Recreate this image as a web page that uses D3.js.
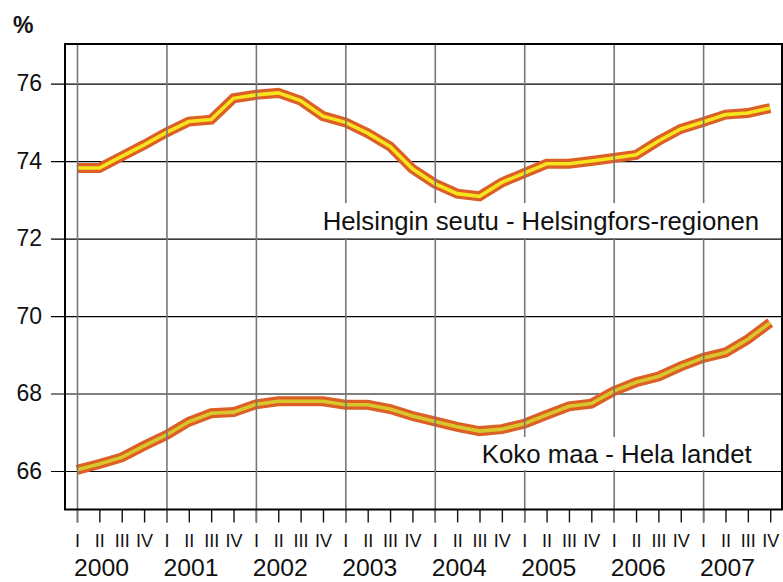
<!DOCTYPE html>
<html><head><meta charset="utf-8">
<script src="https://cdn.jsdelivr.net/npm/d3@7"></script>
<style>
html,body{margin:0;padding:0;background:#fff;}
svg{display:block;font-family:"Liberation Sans",Arial,sans-serif;}
</style></head>
<body>
<svg id="c" width="783" height="582"></svg>
<script>
const years = ["2000","2001","2002","2003","2004","2005","2006","2007"];
const quarters = ["I","II","III","IV"];
const yTicks = [66,68,70,72,74,76];
const seriesNames = ["Helsingin seutu - Helsingfors-regionen","Koko maa - Hela landet"];
const helsinki = [73.82,73.82,74.12,74.42,74.74,75.02,75.07,75.62,75.71,75.76,75.56,75.16,
                  75.0,74.72,74.38,73.8,73.42,73.16,73.09,73.45,73.69,73.93,73.93,74.0,
                  74.08,74.16,74.52,74.83,75.01,75.2,75.24,75.37];
const kokoMaa = [66.03,66.18,66.35,66.65,66.93,67.27,67.49,67.52,67.72,67.8,67.8,67.8,
                 67.71,67.71,67.6,67.42,67.28,67.14,67.03,67.08,67.22,67.45,67.67,67.74,
                 68.06,68.29,68.44,68.7,68.92,69.06,69.4,69.83];

const labels = [];
years.forEach(y => quarters.forEach(q => labels.push({year:y, q:q})));
const idx = d3.range(labels.length);

const svg = d3.select("#c");
const L = 65, R = 782, T = 44, B = 509.5;

const x = d3.scaleLinear().domain([0, labels.length-1]).range([77, 770.2]);
const y = d3.scaleLinear().domain([66, 76]).range([471, 83.6]);

// horizontal gridlines (under lines)
const yAx = svg.append("g").attr("transform","translate(51,0)")
  .call(d3.axisLeft(y).tickValues(yTicks).tickSize(-(R-51)).tickPadding(9).tickFormat(d3.format("d")));
yAx.select(".domain").remove();
yAx.selectAll(".tick line").attr("stroke","#000").attr("stroke-width",1.2);
yAx.selectAll(".tick text").attr("font-size",23).attr("fill","#111").attr("font-family","Liberation Sans, Arial, sans-serif");

// series lines
const line = d3.line().x((d,i)=>x(i)).y(d=>y(d));
const series = [
  {data: helsinki, outer:"#dc5f26", inner:"#f6e41c"},
  {data: kokoMaa, outer:"#dc5f26", inner:"#d8c62a"}
];
series.forEach(s=>{
  svg.append("path").datum(s.data).attr("d",line).attr("fill","none")
    .attr("stroke",s.outer).attr("stroke-width",10).attr("stroke-linejoin","miter");
  svg.append("path").datum(s.data).attr("d",line).attr("fill","none")
    .attr("stroke",s.inner).attr("stroke-width",3.6).attr("stroke-linejoin","miter");
});

// quarter ticks + labels
const xAx = svg.append("g").attr("transform",`translate(0,${B})`)
  .call(d3.axisBottom(x).tickValues(idx).tickSize(13).tickPadding(12).tickFormat(i=>labels[i].q));
xAx.select(".domain").remove();
xAx.selectAll(".tick line").attr("stroke","#111").attr("stroke-width",1.4);
xAx.selectAll(".tick text").attr("font-size",18).attr("fill","#111").attr("font-family","Liberation Sans, Arial, sans-serif");

// vertical year gridlines (over lines)
const yearIdx = idx.filter(i=>i%4===0);
const vg = svg.append("g").attr("transform",`translate(0,${B+13})`)
  .call(d3.axisBottom(x).tickValues(yearIdx).tickSize(-(B+13-T)).tickFormat(""));
vg.select(".domain").remove();
vg.selectAll(".tick line").attr("stroke","#777").attr("stroke-width",1.6);

// year labels
svg.append("g").selectAll("text").data(yearIdx).join("text")
  .attr("x", i=>x(i)+24.5).attr("y", 576).attr("text-anchor","middle")
  .attr("font-size",24).attr("fill","#111")
  .attr("textLength",55).attr("lengthAdjust","spacingAndGlyphs")
  .text(i=>labels[i].year);

// series labels with white boxes
const lab = [
  {text: seriesNames[0], x: 322.7, y: 230, len: 436.5, bx: 318, by: 203, bw: 458, bh: 35},
  {text: seriesNames[1], x: 481.7, y: 462.5, len: 270, bx: 470, by: 437, bw: 306, bh: 33}
];
lab.forEach(l=>{
  svg.append("rect").attr("x",l.bx).attr("y",l.by).attr("width",l.bw).attr("height",l.bh).attr("fill","#fff");
  svg.append("text").attr("x",l.x).attr("y",l.y)
    .attr("font-size",25).attr("fill","#111")
    .attr("textLength",l.len).attr("lengthAdjust","spacingAndGlyphs").text(l.text);
});

// frame
svg.append("rect").attr("x",L).attr("y",T).attr("width",R-L).attr("height",B-T)
  .attr("fill","none").attr("stroke","#000").attr("stroke-width",2);

// unit label
svg.append("text").attr("x",13).attr("y",33).attr("font-size",23).attr("font-weight","bold")
  .attr("fill","#111").text("%");
</script>
</body></html>
